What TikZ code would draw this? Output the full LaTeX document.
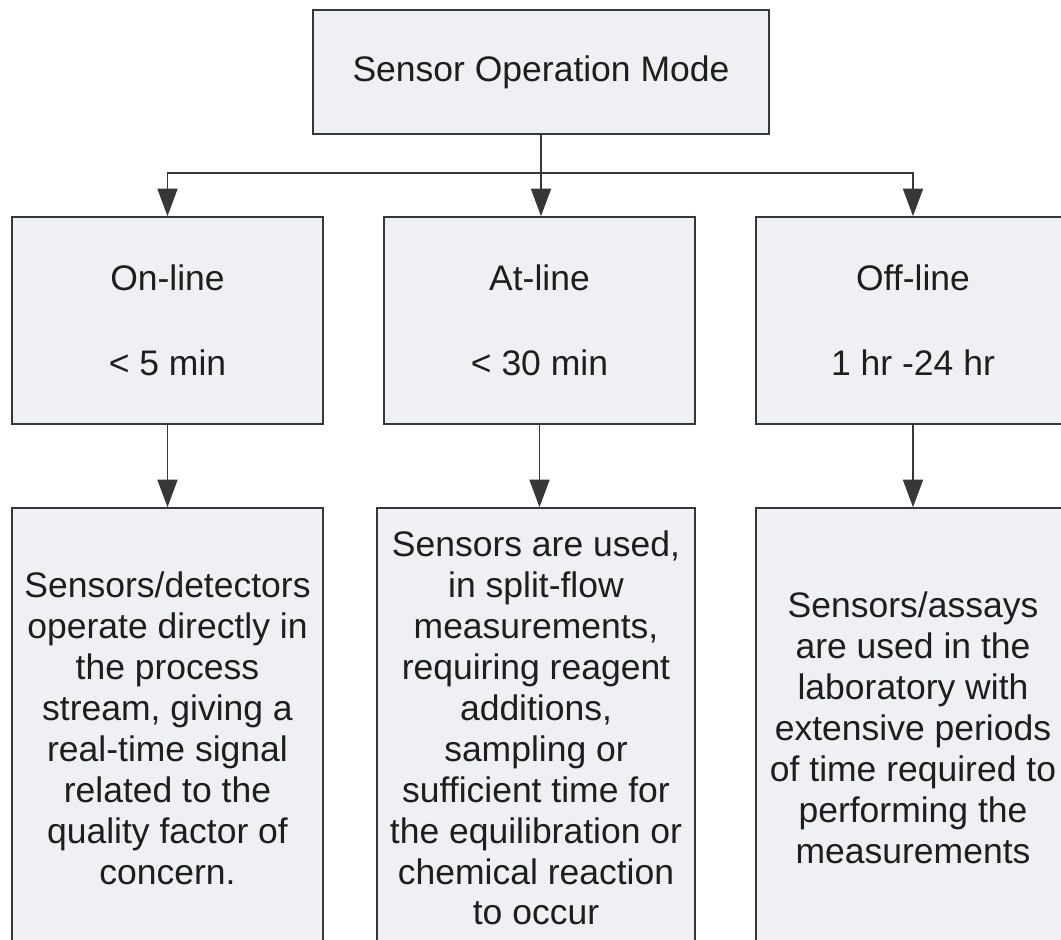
\documentclass[tikz,border=0pt]{standalone}
\usepackage{fontspec}
\setmainfont{Liberation Sans}
\usetikzlibrary{arrows.meta}
\definecolor{boxfill}{RGB}{239,240,244}
\definecolor{boxline}{RGB}{55,55,55}
\definecolor{inktext}{RGB}{30,30,30}
\tikzset{
  modebox/.style={draw=boxline, line width=0.9pt, fill=boxfill, inner sep=0pt,
    align=center, text=inktext, font=\fontsize{20.2}{23.3}\selectfont},
  arr/.style={draw=boxline, line width=0.9pt, -{Triangle[width=0.4cm,length=0.55cm]}}
}
\begin{document}
\begin{tikzpicture}
\useasboundingbox (0,0) rectangle (21.22,-18.8);
\clip (0,0) rectangle (21.22,-18.8);
% top
\node[modebox, minimum width=9.12cm, minimum height=2.48cm] (root) at (10.82,-1.44) {Sensor Operation Mode};
% modes
\node[modebox, minimum width=6.22cm, minimum height=4.14cm] (online) at (3.35,-6.41) {On-line\\[0.88cm]< 5 min};
\node[modebox, minimum width=6.22cm, minimum height=4.14cm] (atline) at (10.79,-6.41) {At-line\\[0.88cm]< 30 min};
\node[modebox, minimum width=6.28cm, minimum height=4.14cm] (offline) at (18.26,-6.41) {Off-line\\[0.88cm]1 hr -24 hr};
% descriptions
\node[modebox, minimum width=6.22cm, minimum height=8.8cm] (onlinedesc) at (3.35,-14.56) {Sensors/detectors\\operate directly in\\the process\\stream, giving a\\real-time signal\\related to the\\quality factor of\\concern.};
\node[modebox, minimum width=6.36cm, minimum height=8.8cm] (atlinedesc) at (10.72,-14.56) {Sensors are used,\\in split-flow\\measurements,\\requiring reagent\\additions,\\sampling or\\sufficient time for\\the equilibration or\\chemical reaction\\to occur};
\node[modebox, minimum width=6.28cm, minimum height=8.8cm] (offlinedesc) at (18.26,-14.56) {Sensors/assays\\are used in the\\laboratory with\\extensive periods\\of time required to\\performing the\\measurements};
% connectors
\coordinate (split) at (10.8,-3.46);
\draw[arr] (root.south) -- (root.south |- atline.north);
\draw[arr] (split) -| (online.north);
\draw[arr] (split) -| (offline.north);
\draw[arr] (online.south) -- (onlinedesc.north);
\draw[arr] (atline.south) -- (atline.south |- atlinedesc.north);
\draw[arr] (offline.south) -- (offlinedesc.north);
\end{tikzpicture}
\end{document}
